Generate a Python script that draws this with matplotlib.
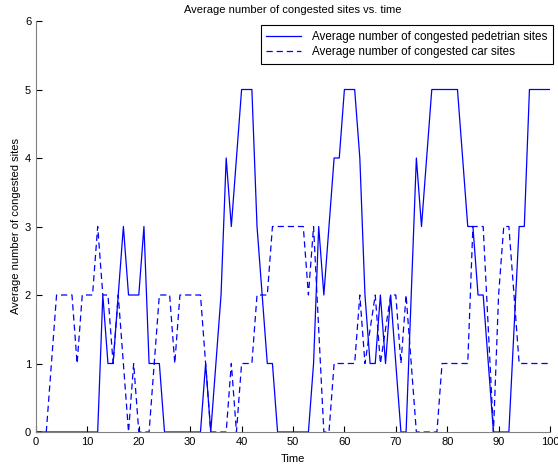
import numpy as np
import matplotlib
matplotlib.use("Agg")
import matplotlib.pyplot as plt

plt.rcParams['font.family'] = ['Liberation Sans', 'DejaVu Sans']
plt.rcParams['lines.scale_dashes'] = False

time = list(range(0, 101))

# Durchschnittliche Anzahl verstopfter Fussgaenger-Felder
ped_sites = [0, 0, 0, 0, 0, 0, 0, 0, 0, 0,
             0, 0, 0, 2, 1, 1, 2, 3, 2, 2,
             2, 3, 1, 1, 1, 0, 0, 0, 0, 0,
             0, 0, 0, 1, 0, 1, 2, 4, 3, 4,
             5, 5, 5, 3, 2, 1, 1, 0, 0, 0,
             0, 0, 0, 0, 1, 3, 2, 3, 4, 4,
             5, 5, 5, 4, 2, 1, 1, 2, 1, 2,
             1, 0, 0, 2, 4, 3, 4, 5, 5, 5,
             5, 5, 5, 4, 3, 3, 2, 2, 1, 0,
             0, 0, 0, 1.5, 3, 3, 5, 5, 5, 5,
             5]

# Durchschnittliche Anzahl verstopfter Auto-Felder
car_sites = [0, 0, 0, 1, 2, 2, 2, 2, 1, 2,
             2, 2, 3, 2, 2, 1, 2, 1, 0, 1,
             0, 0, 0, 1, 2, 2, 2, 1, 2, 2,
             2, 2, 2, 1, 0, 0, 0, 0, 1, 0,
             1, 1, 1, 2, 2, 2, 3, 3, 3, 3,
             3, 3, 3, 2, 3, 1.5, 0, 0, 1, 1,
             1, 1, 1, 2, 1, 1.5, 2, 1, 1.5, 2,
             2, 1, 2, 1, 0, 0, 0, 0, 0, 1,
             1, 1, 1, 1, 1, 3, 3, 3, 1.5, 0,
             2, 3, 3, 2, 1, 1, 1, 1, 1, 1,
             1]

fig = plt.figure(figsize=(5.58, 4.68), dpi=100)
ax = fig.add_axes([36/558, 36/468, 514/558, 411/468])

ax.plot(time, ped_sites, color='blue', lw=0.9, label='Average number of congested pedetrian sites')
car_line, = ax.plot(time, car_sites, color='blue', lw=0.9, linestyle='--',
                    label='Average number of congested car sites')
car_line.set_dashes([4.5, 2.8])

ax.set_xlim(0, 100)
ax.set_ylim(0, 6)
ax.set_xticks(range(0, 101, 10))
ax.set_yticks(range(0, 7))
ax.spines['top'].set_visible(False)
ax.spines['right'].set_visible(False)
ax.spines['bottom'].set_color('#808080')
ax.spines['left'].set_color('#808080')
ax.tick_params(direction='in', length=4, labelsize=8, width=0.8)

ax.set_title('Average number of congested sites vs. time', fontsize=8, pad=6)
ax.set_xlabel('Time', fontsize=8, labelpad=5)
ax.set_ylabel('Average number of congested sites', fontsize=8, labelpad=3)

leg = ax.legend(loc='upper right', bbox_to_anchor=(1.006, 0.99), fontsize=8.4,
                frameon=True, fancybox=False, edgecolor='black', framealpha=1,
                borderaxespad=0, handlelength=3.0, handletextpad=0.9,
                borderpad=0.5, labelspacing=0.25)
leg.get_frame().set_linewidth(0.8)

plt.savefig('out.png', dpi=100)
print("end")
